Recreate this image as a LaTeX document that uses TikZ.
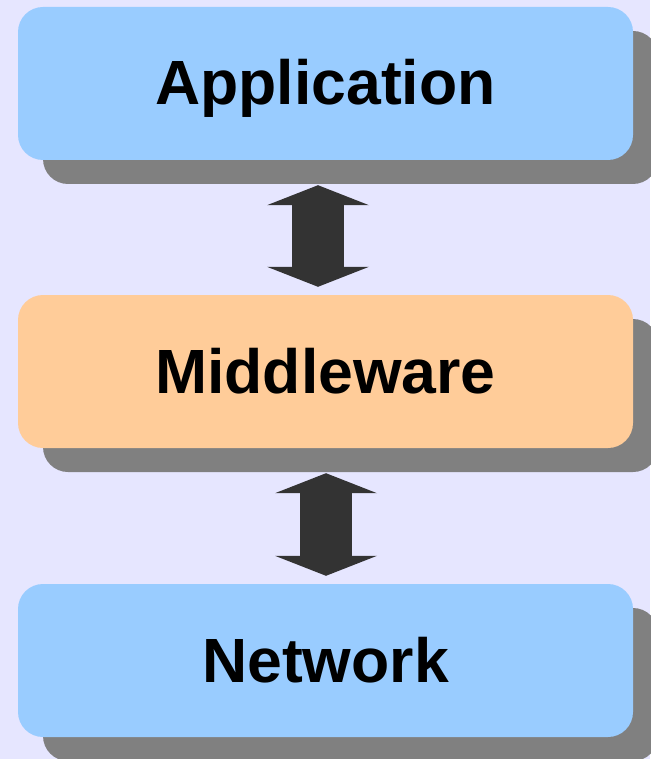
\documentclass[tikz,border=0pt]{standalone}
\usepackage{fontspec}
\setmainfont{Liberation Sans}
\usepackage{tikz}
\usetikzlibrary{arrows.meta, positioning, shadows}

\definecolor{bglav}{HTML}{E6E6FF}
\definecolor{layerblue}{HTML}{99CCFF}
\definecolor{layerorange}{HTML}{FFCC99}
\definecolor{shadegray}{HTML}{808080}
\definecolor{arrowdark}{HTML}{333333}

\begin{document}
\begin{tikzpicture}[
  x=1pt, y=-1pt,
  every node/.style={font=\fontsize{62.5}{70}\selectfont\bfseries},
  layer/.style={
    rectangle, rounded corners=25pt,
    minimum width=615pt, minimum height=153pt,
    text height=44pt, text depth=1pt,
    drop shadow={shadow xshift=25pt, shadow yshift=-24pt,
      fill=shadegray, opacity=1},
    align=center},
  app/.style={layer, fill=layerblue},
  mid/.style={layer, fill=layerorange},
  updown/.style={
    {Triangle[length=20pt,width=102pt,line width=0pt]}-{Triangle[length=20pt,width=102pt,line width=0pt]},
    draw=arrowdark, fill=arrowdark, line width=52pt},
]

\fill[bglav] (0,0) rectangle (650,759);
\useasboundingbox (0,0) rectangle (650,759);

\node[app] (appl) at (325.5, 83.5) {Application};

\node[mid] (midw) at (325.5, 371.5) {Middleware};

\node[app] (netw) at (325.5, 660.5) {Network};

\draw[updown] ([xshift=-7.5pt,yshift=-25pt]appl.south) -- ([xshift=-7.5pt,yshift=8pt]midw.north);
\draw[updown] ([xshift=0.5pt,yshift=-25pt]midw.south) -- ([xshift=0.5pt,yshift=8pt]netw.north);

\end{tikzpicture}
\end{document}
